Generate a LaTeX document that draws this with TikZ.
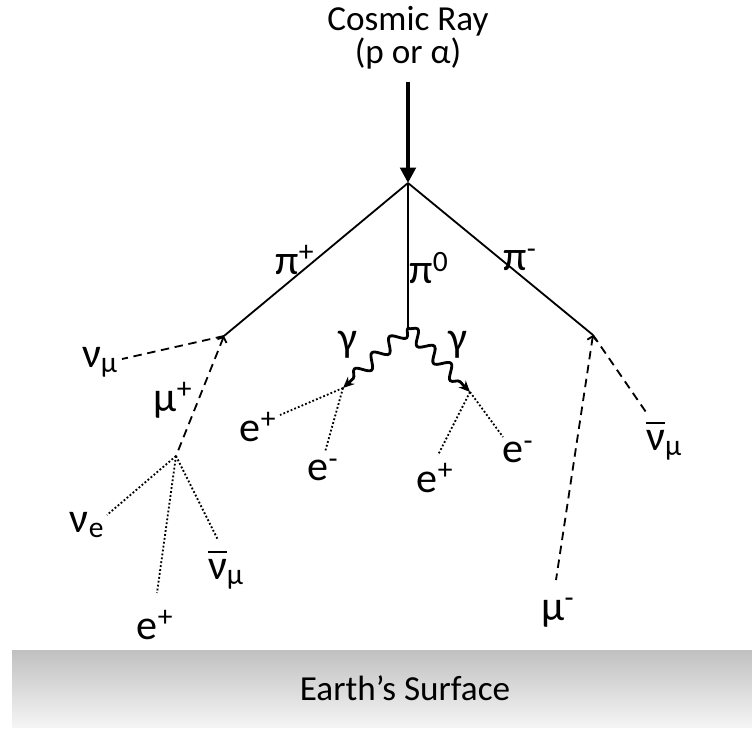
\documentclass[tikz,border=0pt]{standalone}
\usepackage{fontspec}
\setmainfont{Carlito}
\usetikzlibrary{arrows.meta,decorations.pathmorphing}
\tikzset{
  pion/.style={line width=1.3pt},
  muon/.style={line width=1.3pt, dash pattern=on 6pt off 4pt},
  lepton/.style={line width=1.3pt, dash pattern=on 1.3pt off 1.5pt},
  photon/.style={line width=2pt, decorate,
    decoration={snake, amplitude=4.5pt, segment length=17pt, post length=6pt},
    -{Stealth[length=8pt,width=7pt]}},
  lbl/.style={font=\fontsize{30}{32}\selectfont, inner sep=0pt},
  title/.style={font=\fontsize{25}{21}\selectfont, inner sep=0pt, align=center},
}
\newcommand{\nubar}{{\setbox0\hbox{ν}\rlap{\raisebox{1.3\ht0}{\rule{\wd0}{1.4pt}}}ν}}
\begin{document}
\begin{tikzpicture}[x=0.025cm, y=-0.025cm]
\useasboundingbox (0,0) rectangle (752,729);
% ground
\shade[top color={rgb,255:red,192;green,192;blue,192}, bottom color=white!96!black]
  (12,650) rectangle (752,727);
\node[title] (earth) at (405,688) {Earth’s Surface};
% incoming primary
\node[title] (ray) at (408,38) {Cosmic Ray\\(p or α)};
\coordinate (top) at (408,82);
\coordinate (v0) at (408,183);
\draw[line width=2.6pt, -{Triangle[length=11pt,width=11pt]}] (top) -- (v0);
% pions
\coordinate (vp) at (224,336);
\coordinate (vz) at (408,328);
\coordinate (vm) at (593,335);
\draw[pion] (v0) -- (vp);
\draw[pion] (v0) -- (vz);
\draw[pion] (v0) -- (vm);
\node[lbl] (pip) at (295,260) {π\textsuperscript{+}};
\node[lbl] (piz) at (429,268) {π\textsuperscript{0}};
\node[lbl] (pim) at (520,260) {π\textsuperscript{-}};
% photons
\coordinate (gl) at (343,388);
\coordinate (gr) at (470,392);
\draw[photon] (vz) -- (gl);
\draw[photon] (vz) -- (gr);
\node[lbl] (gaml) at (348,345) {γ};
\node[lbl] (gamr) at (458,345) {γ};
% pair production
\coordinate (epl) at (280,415);
\coordinate (eml) at (325,452);
\coordinate (epr) at (438,455);
\coordinate (emr) at (503,437);
\draw[lepton] (gl) -- (epl);
\draw[lepton] (gl) -- (eml);
\draw[lepton] (gr) -- (epr);
\draw[lepton] (gr) -- (emr);
\node[lbl] (epl lbl) at (258,427) {e\textsuperscript{+}};
\node[lbl] (eml lbl) at (323,470) {e\textsuperscript{-}};
\node[lbl] (epr lbl) at (435,478) {e\textsuperscript{+}};
\node[lbl] (emr lbl) at (518,452) {e\textsuperscript{-}};
% pi+ decay
\coordinate (numl) at (122,359);
\coordinate (vmu) at (176,456);
\draw[muon] (vp) -- (numl);
\draw[muon, {Straight Barb[length=3pt,width=7pt]}-] (vp) -- (vmu);
\node[lbl] (numl lbl) at (100,362) {ν\textsubscript{μ}};
\node[lbl] (mup) at (173,400) {μ\textsuperscript{+}};
% mu+ decay
\coordinate (nue) at (107,515);
\coordinate (epb) at (157,593);
\coordinate (nub) at (218,540);
\draw[lepton] (vmu) -- (nue);
\draw[lepton] (vmu) -- (epb);
\draw[lepton] (vmu) -- (nub);
\node[lbl] (nue lbl) at (87,525) {ν\textsubscript{e}};
\node[lbl] (epb lbl) at (155,625) {e\textsuperscript{+}};
\node[lbl] (nub lbl) at (226,570) {\nubar\textsubscript{μ}};
% pi- decay
\coordinate (mum) at (556,580);
\coordinate (nubr) at (648,415);
\draw[muon, {Straight Barb[length=3pt,width=7pt]}-] (vm) -- (mum);
\draw[muon] (vm) -- (nubr);
\node[lbl] (mum lbl) at (558,613) {μ\textsuperscript{-}};
\node[lbl] (nubr lbl) at (664,441) {\nubar\textsubscript{μ}};
\end{tikzpicture}
\end{document}
